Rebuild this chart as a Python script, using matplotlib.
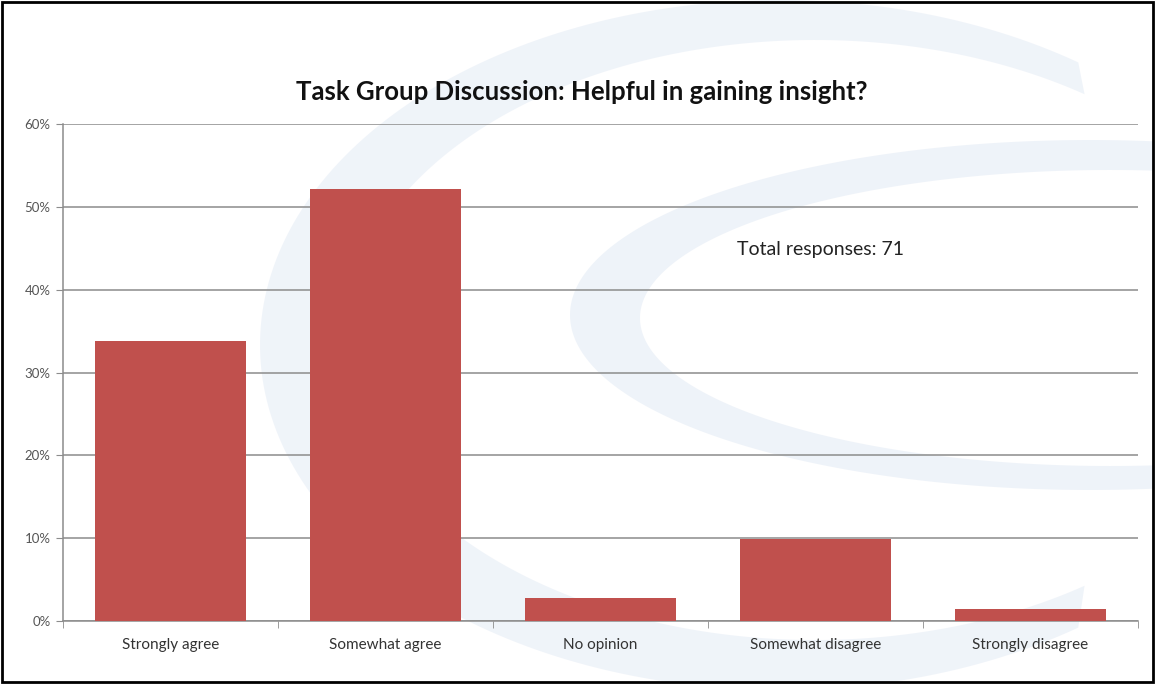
import numpy as np
import matplotlib.pyplot as plt
from matplotlib.patches import Polygon, Rectangle
from matplotlib.ticker import PercentFormatter, FixedLocator

# survey answers (count of responses per option)
categories = ['Strongly agree', 'Somewhat agree', 'No opinion',
              'Somewhat disagree', 'Strongly disagree']
counts = [24, 37, 2, 7, 1]
total = sum(counts)
shares = [100 * c / total for c in counts]

plt.rcParams['font.family'] = ['Lato', 'DejaVu Sans']

W, H = 1155, 684
fig = plt.figure(figsize=(W / 100, H / 100), dpi=100)
fig.patch.set_facecolor('white')


def crescent(c_out, r_out, c_in, r_in, a0, a1, color, alpha):
    # band between two ellipses, in pixel coords converted to figure fraction
    t = np.radians(np.linspace(a0, a1, 200))
    ox = c_out[0] + r_out[0] * np.cos(t)
    oy = c_out[1] + r_out[1] * np.sin(t)
    ix = c_in[0] + r_in[0] * np.cos(t[::-1])
    iy = c_in[1] + r_in[1] * np.sin(t[::-1])
    xs = np.concatenate([ox, ix]) / W
    ys = 1 - np.concatenate([oy, iy]) / H
    fig.patches.append(Polygon(np.column_stack([xs, ys]), closed=True,
                               transform=fig.transFigure, facecolor=color,
                               edgecolor='none', alpha=alpha, zorder=0))


# faint swoosh in the background
crescent((780, 345), (520, 345), (815, 340), (470, 300), 55, 305, '#c9d8ec', 0.28)
crescent((1090, 315), (520, 175), (1110, 318), (470, 148), 80, 280, '#c9d8ec', 0.3)

ax = fig.add_axes([63 / W, 1 - 621 / H, (1138 - 63) / W, (621 - 124) / H])
ax.set_facecolor('none')
ax.set_zorder(2)

x = np.arange(len(categories))
ax.bar(x, shares, width=0.7, color='#c0504d', zorder=3)

ax.set_xlim(-0.5, len(categories) - 0.5)
ax.set_ylim(0, 60)
ax.yaxis.set_major_locator(FixedLocator(np.arange(0, 61, 10)))
ax.yaxis.set_major_formatter(PercentFormatter(decimals=0))
ax.grid(axis='y', color='#8c8c8c', linewidth=1.1, zorder=1)

ax.set_xticks(x)
ax.set_xticklabels(categories)
ax.xaxis.set_minor_locator(FixedLocator(np.arange(-0.5, len(categories), 1)))
ax.tick_params(axis='x', which='major', length=0, pad=12, labelsize=11,
               labelcolor='#333333')
ax.tick_params(axis='x', which='minor', length=5, color='#8c8c8c')
ax.tick_params(axis='y', length=5, color='#8c8c8c', labelsize=9.5,
               labelcolor='#555555', pad=4)

for s in ['top', 'right']:
    ax.spines[s].set_visible(False)
for s in ['left', 'bottom']:
    ax.spines[s].set_color('#8c8c8c')
    ax.spines[s].set_linewidth(1.1)

fig.text(582 / W, 1 - 92 / H, 'Task Group Discussion: Helpful in gaining insight?',
         ha='center', va='center', fontsize=18.5, fontweight='bold', color='#111111')
fig.text(737 / W, 1 - 250 / H, f'Total responses: {total}',
         ha='left', va='center', fontsize=14, color='#222222')

# outer frame
fig.patches.append(Rectangle((2 / W, 2 / H), 1 - 4 / W, 1 - 4 / H,
                             transform=fig.transFigure, fill=False,
                             edgecolor='black', linewidth=2, zorder=10))

fig.savefig('out.png', dpi=100)
